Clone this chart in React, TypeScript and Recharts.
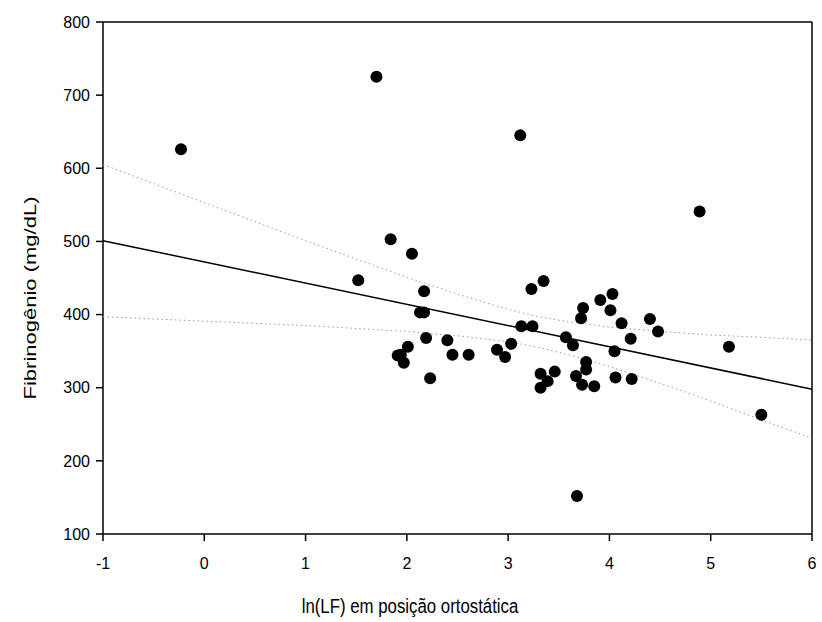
import React from "react";
import { ScatterChart, Scatter, XAxis, YAxis, ReferenceLine } from "recharts";

const xTicks = [-1, 0, 1, 2, 3, 4, 5, 6];
const yTicks = [100, 200, 300, 400, 500, 600, 700, 800];

// ln(LF) standing position vs fibrinogen
const lnLF = [
  -0.23, 1.7, 1.84, 2.05, 1.52, 2.17, 2.13, 2.17, 2.19, 2.01, 1.91, 1.94, 1.97, 2.23,
  2.4, 2.45, 2.61, 2.89, 2.97, 3.03, 3.12, 3.13, 3.24, 3.23, 3.35, 3.32, 3.39, 3.32,
  3.46, 3.57, 3.64, 3.67, 3.73, 3.85, 3.77, 3.77, 3.72, 3.74, 3.91, 4.03, 4.01, 4.12,
  4.21, 4.05, 4.06, 4.22, 4.4, 4.48, 4.89, 5.18, 5.5, 3.68,
];
const fibrinogen = [
  626, 725, 503, 483, 447, 432, 403, 403, 368, 356, 344, 345, 334, 313,
  365, 345, 345, 352, 342, 360, 645, 384, 384, 435, 446, 319, 309, 300,
  322, 369, 358, 316, 304, 302, 335, 325, 395, 409, 420, 428, 406, 388,
  367, 350, 314, 312, 394, 377, 541, 356, 263, 152,
];

// regression line endpoints
const fitX = [-1, 6];
const fitY = [501, 298];

// confidence band read along the x axis
const bandX = [-1, 0, 1, 2, 2.5, 3, 3.3, 3.6, 4, 4.5, 5, 5.5, 6];
const upperY = [605, 553, 501, 451, 428, 407, 397, 390, 383, 377, 372, 369, 365];
const lowerY = [397, 391, 385, 377, 371, 363, 355, 345, 329, 306, 282, 256, 231];

const points = lnLF.map((x, i) => ({ x, y: fibrinogen[i] }));
const fit = fitX.map((x, i) => ({ x, y: fitY[i] }));
const upper = bandX.map((x, i) => ({ x, y: upperY[i] }));
const lower = bandX.map((x, i) => ({ x, y: lowerY[i] }));

const font = "'Liberation Sans', Arial, sans-serif";
const tickStyle = { fill: "#000", fontSize: 16, fontFamily: font };
const noDot = () => <g />;
const dot = (p: any) => <circle cx={p.cx} cy={p.cy} r={6} fill="#000" />;

export default function App() {
  return (
    <div style={{ position: "absolute", left: 0, top: 0, width: 822, height: 622, background: "#fff" }}>
      <ScatterChart width={822} height={622} margin={{ top: 22, right: 10, left: 0, bottom: 58 }}>
        <XAxis
          type="number"
          dataKey="x"
          domain={[-1, 6]}
          ticks={xTicks}
          interval={0}
          height={30}
          tickSize={7}
          tickMargin={17}
          tick={tickStyle}
          axisLine={{ stroke: "#000", strokeWidth: 1.5 }}
          tickLine={{ stroke: "#000", strokeWidth: 1.5 }}
        />
        <YAxis
          type="number"
          dataKey="y"
          domain={[100, 800]}
          ticks={yTicks}
          interval={0}
          width={103}
          tickSize={7}
          tickMargin={6}
          tick={tickStyle}
          axisLine={{ stroke: "#000", strokeWidth: 1.5 }}
          tickLine={{ stroke: "#000", strokeWidth: 1.5 }}
        />
        <ReferenceLine y={800} stroke="#000" strokeWidth={1.5} />
        <ReferenceLine x={6} stroke="#000" strokeWidth={1.5} />
        <Scatter data={upper} line={{ stroke: "#999", strokeWidth: 1, strokeDasharray: "1.5 3" }} shape={noDot} isAnimationActive={false} />
        <Scatter data={lower} line={{ stroke: "#999", strokeWidth: 1, strokeDasharray: "1.5 3" }} shape={noDot} isAnimationActive={false} />
        <Scatter data={fit} line={{ stroke: "#000", strokeWidth: 1.5 }} shape={noDot} isAnimationActive={false} />
        <Scatter data={points} shape={dot} isAnimationActive={false} />
      </ScatterChart>
      <div
        style={{
          position: "absolute",
          left: 410,
          top: 606,
          transform: "translate(-50%, -50%) scaleX(0.84)",
          whiteSpace: "nowrap",
          fontFamily: font,
          fontSize: 20,
          color: "#000",
        }}
      >
        ln(LF) em posição ortostática
      </div>
      <div
        style={{
          position: "absolute",
          left: 30,
          top: 298,
          transform: "translate(-50%, -50%) rotate(-90deg) scale(1.1, 0.86)",
          whiteSpace: "nowrap",
          fontFamily: font,
          fontSize: 20,
          color: "#000",
        }}
      >
        Fibrinogênio (mg/dL)
      </div>
    </div>
  );
}
